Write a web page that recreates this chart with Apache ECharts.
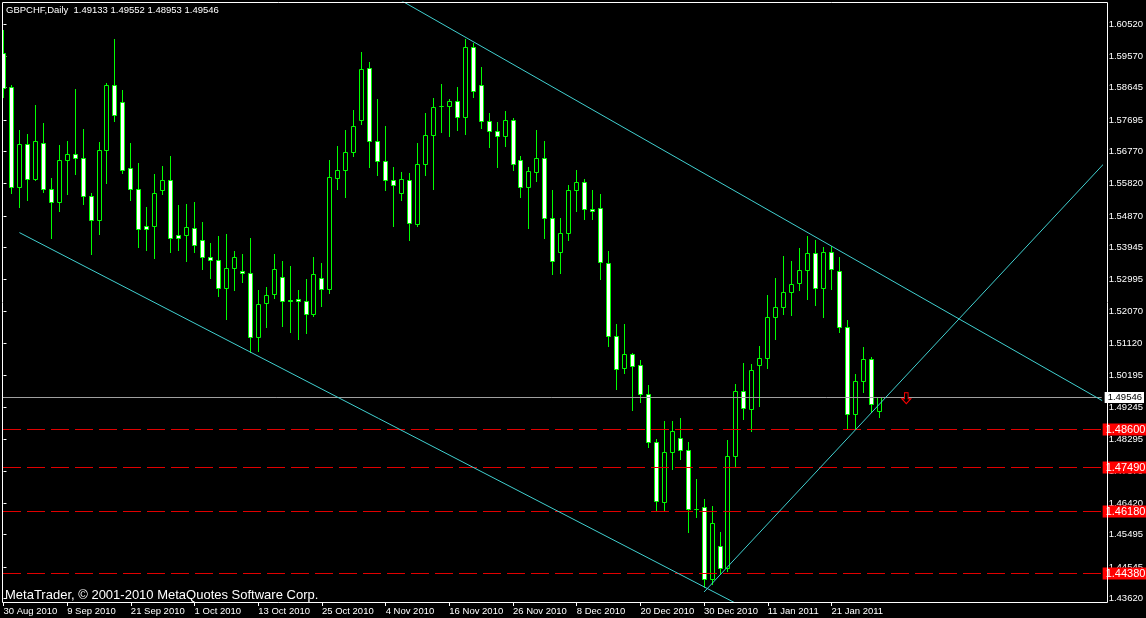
<!DOCTYPE html>
<html><head><meta charset="utf-8">
<script src="https://cdn.jsdelivr.net/npm/echarts@6/dist/echarts.min.js"></script>
<style>html,body{margin:0;padding:0;background:#000;}#c{width:1146px;height:618px;}</style>
</head><body><div id="c"></div>
<script>
const symbolName = 'GBPCHF,Daily';
const footerText = 'MetaTrader, \u00A9 2001-2010 MetaQuotes Software Corp.';

const open = [
1.59665,1.58662,1.55712,1.56981,1.55948,1.57010,1.55653,1.55270,1.56509,1.56686,
1.56568,1.55447,1.54739,1.56804,1.58721,1.58220,1.56273,1.55653,1.54562,1.54562,
1.55624,1.55919,1.54296,1.54296,1.54503,1.54178,1.53677,1.53588,1.52762,1.53352,
1.53264,1.53205,1.51317,1.52320,1.52585,1.53087,1.52408,1.52438,1.52379,1.51995,
1.53057,1.52733,1.55978,1.56214,1.56745,1.57689,1.59223,1.57069,1.56479,1.55919,
1.55535,1.55919,1.54621,1.56391,1.57246,1.58102,1.58102,1.58249,1.57777,1.59842,
1.58721,1.57659,1.57364,1.57217,1.57689,1.56509,1.55712,1.56155,1.56568,1.54798,
1.53824,1.54355,1.55624,1.55860,1.55063,1.55093,1.53500,1.51346,1.50402,1.50815,
1.50491,1.49635,1.48219,1.46449,1.47924,1.48337,1.47983,1.46243,1.46302,1.44207,
1.45151,1.44502,1.47806,1.49724,1.49193,1.50491,1.50697,1.51907,1.52202,1.52644,
1.52910,1.53293,1.53795,1.52762,1.53824,1.53264,1.51612,1.49045,1.50019,1.50668,
1.49133];
const high = [
1.60344,1.58721,1.57394,1.57276,1.58131,1.57600,1.55978,1.56951,1.57069,1.58603,
1.57423,1.55535,1.57040,1.58780,1.60078,1.58574,1.57010,1.56420,1.55122,1.56096,
1.56332,1.56627,1.55181,1.55211,1.55270,1.54680,1.54090,1.54267,1.54326,1.53854,
1.53765,1.54208,1.52703,1.52792,1.53765,1.53559,1.53411,1.52703,1.53028,1.53677,
1.53500,1.56509,1.56922,1.57394,1.57984,1.59695,1.59400,1.58308,1.57512,1.56302,
1.56155,1.56125,1.57010,1.57895,1.58338,1.58751,1.58308,1.58662,1.60078,1.59960,
1.59252,1.57895,1.57630,1.57954,1.57748,1.56627,1.56302,1.57394,1.57069,1.55624,
1.54798,1.55771,1.56214,1.55948,1.55624,1.55506,1.53854,1.51700,1.51700,1.50845,
1.50638,1.49901,1.48308,1.48839,1.48839,1.48927,1.48219,1.47128,1.46538,1.46331,
1.45564,1.48278,1.49930,1.50550,1.50520,1.51051,1.52556,1.53057,1.53706,1.53559,
1.53942,1.54267,1.54178,1.53972,1.54001,1.53677,1.51818,1.50225,1.51022,1.50727,
1.49552];
const low = [
1.58367,1.55535,1.55122,1.55329,1.55919,1.55565,1.54237,1.55004,1.55506,1.56096,
1.55211,1.53765,1.54326,1.55830,1.57659,1.56125,1.55329,1.53972,1.53883,1.53647,
1.55506,1.53824,1.53883,1.53559,1.53824,1.53323,1.53057,1.52526,1.51848,1.52703,
1.52939,1.50874,1.50904,1.51612,1.52467,1.51641,1.51464,1.51258,1.51435,1.51936,
1.52231,1.52615,1.55653,1.55417,1.56627,1.57571,1.56302,1.56066,1.55624,1.54562,
1.55329,1.54178,1.54562,1.56066,1.55653,1.57335,1.57217,1.57394,1.57276,1.58367,
1.57453,1.56892,1.56302,1.56922,1.56214,1.55417,1.54503,1.55889,1.54237,1.53175,
1.53205,1.54149,1.55004,1.54768,1.54768,1.53028,1.51051,1.49783,1.50255,1.49163,
1.49399,1.48072,1.46213,1.46184,1.47423,1.47718,1.45564,1.46007,1.43971,1.44060,
1.44355,1.44414,1.47482,1.48898,1.48544,1.49281,1.50402,1.51258,1.51995,1.51966,
1.52703,1.52438,1.52261,1.51907,1.52733,1.51464,1.48603,1.48603,1.49694,1.49104,
1.48953];
const close = [
1.58633,1.55712,1.56981,1.55948,1.57069,1.55653,1.55270,1.56509,1.56686,1.56568,
1.55447,1.54739,1.56804,1.58721,1.57836,1.56214,1.55653,1.54473,1.54473,1.55535,
1.55919,1.54237,1.54237,1.54532,1.54031,1.53677,1.53588,1.52762,1.53352,1.53677,
1.53205,1.51317,1.52290,1.52556,1.53323,1.52379,1.52379,1.52379,1.51995,1.53175,
1.52733,1.56007,1.56214,1.56745,1.57512,1.59193,1.57069,1.56479,1.55919,1.55771,
1.55948,1.54650,1.56391,1.57246,1.58072,1.58095,1.58249,1.57777,1.59842,1.58544,
1.57659,1.57364,1.57217,1.57689,1.56391,1.55712,1.56184,1.56568,1.54798,1.53559,
1.54355,1.55624,1.55860,1.55063,1.55004,1.53529,1.51346,1.50373,1.50815,1.50461,
1.49635,1.48219,1.46479,1.47924,1.48544,1.47983,1.46243,1.46250,1.44207,1.45830,
1.44502,1.47806,1.49724,1.49222,1.50343,1.50697,1.51907,1.52202,1.52644,1.52880,
1.53293,1.53795,1.52762,1.53824,1.53323,1.51612,1.49045,1.50019,1.50668,1.49340,
1.49546];

const tickBars = [0,8,16,24,32,40,48,56,64,72,80,88,96,104];
const tickLabels = ['30 Aug 2010','9 Sep 2010','21 Sep 2010','1 Oct 2010','13 Oct 2010','25 Oct 2010','4 Nov 2010','16 Nov 2010','26 Nov 2010','8 Dec 2010','20 Dec 2010','30 Dec 2010','11 Jan 2011','21 Jan 2011'];
const priceTicks = [1.43620,1.44545,1.45495,1.46420,1.47370,1.48295,1.49245,1.50195,1.51120,1.52070,1.52995,1.53945,1.54870,1.55820,1.56770,1.57695,1.58645,1.59570,1.60520];

const bidPrice = 1.49546;
const levelPrices = [1.48600, 1.47490, 1.46180, 1.44380];

const upperLine = [[50, 1.61200], [138, 1.49440]];
const lowerLine = [[2, 1.54381], [100, 1.42508]];
const supportLine = [[88, 1.43811], [140, 1.56855]];
const arrowPoint = [113.4, 1.4951];

const Y_MIN = 1.435165, Y_MAX = 1.611636;
const X_MIN = -0.1875, X_MAX = 137.9375;
const FONT = '"Liberation Sans", Arial, sans-serif';

const candles = open.map((o, i) => [i, o, high[i], low[i], close[i]]);
const last = open.length - 1;
const headerText = symbolName + '  ' + [open[last], high[last], low[last], close[last]].map(v => v.toFixed(5)).join(' ');

function renderCandle(params, api) {
  const i = api.value(0);
  const o = api.coord([i, api.value(1)]);
  const h = api.coord([i, api.value(2)]);
  const l = api.coord([i, api.value(3)]);
  const c = api.coord([i, api.value(4)]);
  const cx = Math.floor(o[0]) + 0.5;
  const yTop = Math.round(Math.min(o[1], c[1])) + 0.5;
  const yBot = Math.round(Math.max(o[1], c[1])) + 0.5;
  const bull = api.value(4) >= api.value(1);
  return {
    type: 'group',
    children: [
      { type: 'line', shape: { x1: cx, y1: Math.round(h[1]), x2: cx, y2: Math.round(l[1]) + 1 },
        style: { stroke: '#00ff00', lineWidth: 1 } },
      { type: 'rect', shape: { x: cx - 2, y: yTop, width: 4, height: Math.max(0, yBot - yTop) },
        style: { fill: bull ? '#000000' : '#ffffff', stroke: '#00ff00', lineWidth: 1 } }
    ]
  };
}

function levelRenderer(lineColor, dash, boxColor, textColor, fontSize, dx) {
  return function (params, api) {
    const cs = params.coordSys;
    const v = api.value(1);
    const y = Math.round(api.coord([api.value(0), v])[1]) + 0.5;
    return {
      type: 'group',
      children: [
        { type: 'line', shape: { x1: cs.x, y1: y, x2: cs.x + cs.width, y2: y },
          style: { stroke: lineColor, lineWidth: 1, lineDash: dash, lineDashOffset: dash ? -1 : 0 } },
        { type: 'text', x: cs.x + cs.width + dx, y: y,
          style: { text: v.toFixed(5), fill: textColor, backgroundColor: boxColor,
            font: fontSize + 'px ' + FONT, padding: [1, 2, 0, 3], verticalAlign: 'middle', align: 'left' } }
      ]
    };
  };
}

const chart = echarts.init(document.getElementById('c'), null, { renderer: 'canvas' });
chart.setOption({
  animation: false,
  backgroundColor: '#000000',
  textStyle: { fontFamily: FONT },
  grid: { left: 2, right: 39, top: 2, bottom: 16, containLabel: false },
  xAxis: {
    type: 'value', min: X_MIN, max: X_MAX,
    axisLine: { show: false },
    splitLine: { show: false },
    axisTick: { show: true, length: 4, customValues: tickBars, lineStyle: { color: '#ffffff' } },
    axisLabel: {
      customValues: tickBars, color: '#ffffff', fontSize: 9.5, fontFamily: FONT, align: 'left', margin: 4,
      formatter: v => tickLabels[tickBars.indexOf(Math.round(v))] || ''
    }
  },
  yAxis: {
    type: 'value', position: 'right', min: Y_MIN, max: Y_MAX, scale: true,
    axisLine: { show: false },
    splitLine: { show: false },
    axisTick: { show: true, length: 3, customValues: priceTicks, lineStyle: { color: '#ffffff' } },
    axisLabel: {
      customValues: priceTicks, color: '#ffffff', fontSize: 9.5, fontFamily: FONT, margin: 7,
      formatter: v => v.toFixed(5)
    }
  },
  graphic: [
    { type: 'rect', silent: true, z: 100, shape: { x: 2.5, y: 2.5, width: 1105, height: 600 },
      style: { fill: 'none', stroke: '#ffffff', lineWidth: 1 } },
    { type: 'text', left: 6, top: 5, z: 100, style: { text: headerText, fill: '#ffffff', font: '9.5px ' + FONT } },
    { type: 'text', left: 5, top: 589, z: 100, style: { text: footerText, fill: '#ffffff', font: '13px ' + FONT } }
  ],
  series: [
    {
      type: 'custom', name: 'candles', renderItem: renderCandle, data: candles, clip: true, silent: true,
      encode: { x: 0, y: [1, 2, 3, 4] }, z: 2
    },
    {
      type: 'custom', name: 'levels', silent: true, clip: false, z: 3,
      data: levelPrices.map(v => [0, v]), encode: { x: 0, y: 1 },
      renderItem: levelRenderer('#e00000', [18, 6], '#ff0000', '#ffffff', 11, 1)
    },
    {
      type: 'custom', name: 'bid', silent: true, clip: false, z: 3,
      data: [[0, bidPrice]], encode: { x: 0, y: 1 },
      renderItem: levelRenderer('#a0a0a0', null, '#ffffff', '#000000', 9.5, 3)
    },
    { type: 'line', name: 'upper', data: upperLine, showSymbol: false, silent: true, clip: true, z: 4,
      lineStyle: { color: '#40d0d0', width: 1 } },
    { type: 'line', name: 'lower', data: lowerLine, showSymbol: false, silent: true, clip: true, z: 4,
      lineStyle: { color: '#40d0d0', width: 1 } },
    { type: 'line', name: 'support', data: supportLine, showSymbol: false, silent: true, clip: true, z: 4,
      lineStyle: { color: '#40d0d0', width: 1 } },
    { type: 'scatter', name: 'arrow', data: [arrowPoint], silent: true, z: 5,
      symbol: 'path://M3,0 L7,0 L7,6 L10,6 L5,11 L0,6 L3,6 Z', symbolSize: [9, 11],
      itemStyle: { color: '#000000', borderColor: '#ff0000', borderWidth: 1, opacity: 1 } }
  ]
});
</script></body></html>
